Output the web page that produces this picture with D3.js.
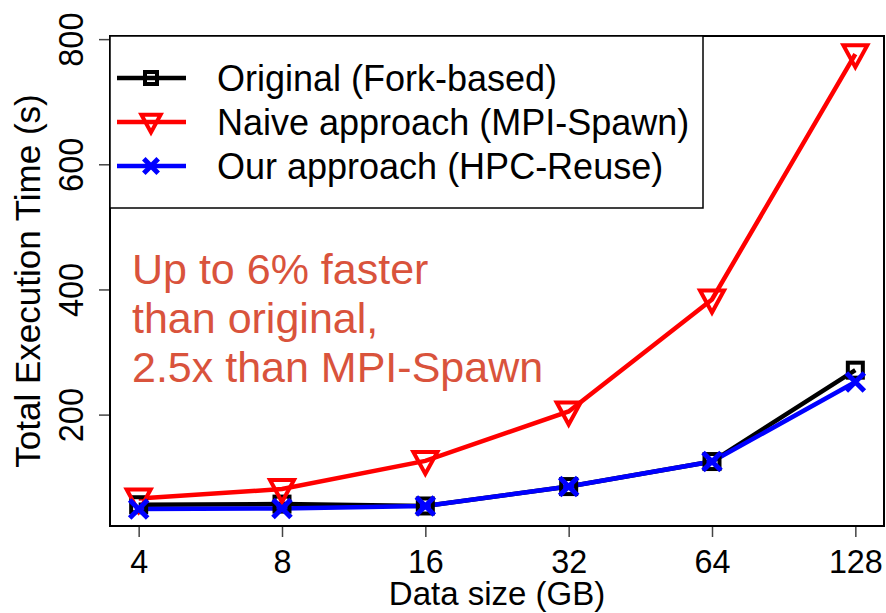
<!DOCTYPE html>
<html>
<head>
<meta charset="utf-8">
<script src="https://cdn.jsdelivr.net/npm/d3@7"></script>
<style>
  body { margin: 0; background: #fff; }
  text { font-family: "Liberation Sans", Arial, sans-serif; }
</style>
</head>
<body>
<svg id="chart" width="886" height="613"></svg>
<script>
// data
const sizes = [4, 8, 16, 32, 64, 128];
const original = [56, 57, 54, 85, 125, 271];
const naive = [66, 81, 126, 205, 384, 776];
const ours = [49, 50, 54, 85, 125, 252];
const seriesNames = ["Original (Fork-based)", "Naive approach (MPI-Spawn)", "Our approach (HPC-Reuse)"];
const yTicks = [200, 400, 600, 800];
const noteLines = ["Up to 6% faster", "than original,", "2.5x than MPI-Spawn"];

const series = [
  { name: seriesNames[0], values: original, color: "#000000", shape: "square" },
  { name: seriesNames[1], values: naive, color: "#ff0000", shape: "triangle" },
  { name: seriesNames[2], values: ours, color: "#0000ff", shape: "cross" }
];

// plot area
const plotLeft = 110, plotRight = 884, plotTop = 36, plotBottom = 526;

const svg = d3.select("#chart");

const x = d3.scaleLog().base(2).domain([4 / Math.pow(2, 0.2), 128 * Math.pow(2, 0.2)]).range([plotLeft, plotRight]);
const y = d3.scaleLinear().domain([22, 805]).range([plotBottom, plotTop]);

// squeeze text a bit, the reference font is a little narrow
function narrow(sel, k) {
  sel.each(function () {
    const w = this.getComputedTextLength();
    d3.select(this).attr("textLength", w * k).attr("lengthAdjust", "spacingAndGlyphs");
  });
}

// marker drawing
function drawMarker(g, shape, color, cx, cy, r) {
  r = r || 1;
  if (shape === "square") {
    g.append("rect")
      .attr("x", cx - 7.5 * r).attr("y", cy - 7.5 * r)
      .attr("width", 15 * r).attr("height", 15 * r)
      .attr("fill", "none").attr("stroke", color).attr("stroke-width", 4);
  } else if (shape === "triangle") {
    g.append("path")
      .attr("d", `M${cx - 12 * r},${cy - 9 * r}L${cx + 12 * r},${cy - 9 * r}L${cx},${cy + 13 * r}Z`)
      .attr("fill", "none").attr("stroke", color).attr("stroke-width", 4)
      .attr("stroke-linejoin", "miter");
  } else {
    g.append("path")
      .attr("d", `M${cx - 9 * r},${cy - 9 * r}L${cx + 9 * r},${cy + 9 * r}M${cx - 9 * r},${cy + 9 * r}L${cx + 9 * r},${cy - 9 * r}`)
      .attr("stroke", color).attr("stroke-width", 5);
  }
}

// axes
const xAxis = svg.append("g")
  .attr("transform", `translate(0,${plotBottom})`)
  .call(d3.axisBottom(x).tickValues(sizes).tickFormat(d3.format("d")).tickSize(11).tickSizeOuter(0));
xAxis.select(".domain").remove();
xAxis.selectAll("line").attr("stroke", "#444").attr("stroke-width", 1.5);
xAxis.selectAll("text").attr("font-size", 34).attr("fill", "#000").attr("dy", null).attr("y", 47);
narrow(xAxis.selectAll("text"), 0.95);

const yAxis = svg.append("g")
  .attr("transform", `translate(${plotLeft},0)`)
  .call(d3.axisLeft(y).tickValues(yTicks).tickSize(11).tickSizeOuter(0));
yAxis.select(".domain").remove();
yAxis.selectAll("line").attr("stroke", "#444").attr("stroke-width", 1.5);
yAxis.selectAll("text")
  .attr("font-size", 35).attr("fill", "#000")
  .attr("x", null).attr("dy", null)
  .attr("text-anchor", "middle")
  .attr("transform", "translate(-27,0) rotate(-90)");
narrow(yAxis.selectAll("text"), 0.93);

// axis titles
svg.append("text")
  .attr("x", (plotLeft + plotRight) / 2).attr("y", 605)
  .attr("text-anchor", "middle").attr("font-size", 33)
  .text("Data size (GB)");

svg.append("text")
  .attr("transform", `translate(40,${(plotTop + plotBottom) / 2}) rotate(-90)`)
  .attr("text-anchor", "middle").attr("font-size", 35)
  .text("Total Execution Time (s)");

// lines and markers
const line = d3.line().x((d, i) => x(sizes[i])).y(d => y(d));

series.forEach(s => {
  svg.append("path")
    .datum(s.values)
    .attr("d", line)
    .attr("fill", "none")
    .attr("stroke", s.color)
    .attr("stroke-width", 4.5);
});
series.forEach(s => {
  const g = svg.append("g");
  s.values.forEach((v, i) => drawMarker(g, s.shape, s.color, x(sizes[i]), y(v)));
});

// plot box
svg.append("rect")
  .attr("x", plotLeft).attr("y", plotTop)
  .attr("width", plotRight - plotLeft).attr("height", plotBottom - plotTop)
  .attr("fill", "none").attr("stroke", "#000").attr("stroke-width", 2);

// legend
const legend = svg.append("g");
legend.append("rect")
  .attr("x", plotLeft).attr("y", plotTop)
  .attr("width", 593).attr("height", 172)
  .attr("fill", "#fff").attr("stroke", "#000").attr("stroke-width", 1.5);

series.forEach((s, i) => {
  const ly = 78 + i * 44;
  legend.append("line")
    .attr("x1", 117).attr("x2", 186).attr("y1", ly).attr("y2", ly)
    .attr("stroke", s.color).attr("stroke-width", 4.5);
  drawMarker(legend, s.shape, s.color, 151, ly, 0.8);
  legend.append("text")
    .attr("x", 217).attr("y", ly + 13)
    .attr("font-size", 36)
    .text(s.name);
});

// annotation
svg.append("text")
  .attr("fill", "#d9533c")
  .attr("font-size", 43)
  .selectAll("tspan")
  .data(noteLines)
  .join("tspan")
  .attr("x", 132)
  .attr("y", (d, i) => 284 + i * 49)
  .text(d => d);
</script>
</body>
</html>
